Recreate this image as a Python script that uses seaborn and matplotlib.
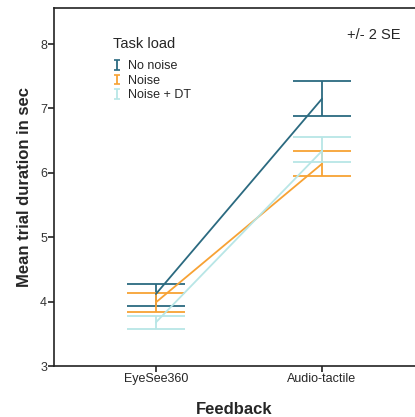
import numpy as np
import pandas as pd
import seaborn as sns
import matplotlib.pyplot as plt
from matplotlib.legend_handler import HandlerErrorbar

feedback = ['EyeSee360', 'Audio-tactile']
task_load = ['No noise', 'Noise', 'Noise + DT']
colors = ['#2b6a80', '#f7a234', '#b8e6e6']

# means and +/- 2 SE bounds
mean_no_noise = [4.12, 7.15]
low_no_noise = [3.94, 6.89]
high_no_noise = [4.28, 7.43]

mean_noise = [3.99, 6.14]
low_noise = [3.84, 5.95]
high_noise = [4.13, 6.34]

mean_dt = [3.68, 6.34]
low_dt = [3.57, 6.17]
high_dt = [3.78, 6.56]

means = [mean_no_noise, mean_noise, mean_dt]
lows = [low_no_noise, low_noise, low_dt]
highs = [high_no_noise, high_noise, high_dt]

rows = []
for g, m in zip(task_load, means):
    for i, f in enumerate(feedback):
        rows.append({'pos': i, 'Feedback': f, 'Task load': g, 'mean': m[i]})
df = pd.DataFrame(rows)

sns.set_style('ticks')
plt.rcParams['font.family'] = ['Liberation Sans', 'DejaVu Sans']

fig = plt.figure(figsize=(4.15, 4.17), dpi=100)
ax = fig.add_axes([0.130, 0.122, 0.87, 0.859])

sns.lineplot(data=df, x='pos', y='mean', hue='Task load', hue_order=task_load,
             palette=colors, linewidth=1.3, legend=False, ax=ax, zorder=3)

handles = []
for g, c, m, lo, hi in zip(task_load, colors, means, lows, highs):
    m = np.array(m)
    err = [m - np.array(lo), np.array(hi) - m]
    ax.errorbar([0, 1], m, yerr=err, fmt='none', ecolor=c, elinewidth=1.3,
                capsize=21, capthick=1.3, zorder=2)
    # off-screen dummy just for the legend glyph
    handles.append(ax.errorbar([-5], [5], yerr=[0.1], fmt='none', ecolor=c,
                               elinewidth=1.3, capsize=2.5, capthick=1.2))

ax.set_xlim(-0.614, 1.56)
ax.set_ylim(3, 8.56)
ax.set_xticks([0, 1])
ax.set_xticklabels(feedback, fontsize=9)
ax.set_yticks([3, 4, 5, 6, 7, 8])
ax.set_yticklabels(['3', '4', '5', '6', '7', '8'], fontsize=9, color='#333333')
ax.tick_params(axis='both', length=4, width=1.2, color='#222222', pad=1)
for s in ['left', 'bottom', 'top']:
    ax.spines[s].set_linewidth(1.2)
    ax.spines[s].set_color('#222222')
ax.spines['right'].set_visible(False)

ax.set_xlabel('Feedback', fontsize=12, fontweight='bold', labelpad=12)
ax.set_ylabel('Mean trial duration in sec', fontsize=12, fontweight='bold', labelpad=6)

leg = ax.legend(handles, task_load, title='Task load', loc='upper left',
                bbox_to_anchor=(0.146, 0.936), frameon=False, fontsize=9,
                title_fontsize=10.5, handlelength=0.6, handletextpad=0.6,
                labelspacing=0.2, borderpad=0,
                handler_map={type(handles[0]): HandlerErrorbar(yerr_size=0.38)})
leg._legend_box.align = 'left'
leg._legend_box.sep = 6.5

ax.text(0.961, 0.925, '+/- 2 SE', transform=ax.transAxes, ha='right', va='center',
        fontsize=10.5)

fig.savefig('out.png', dpi=100)
